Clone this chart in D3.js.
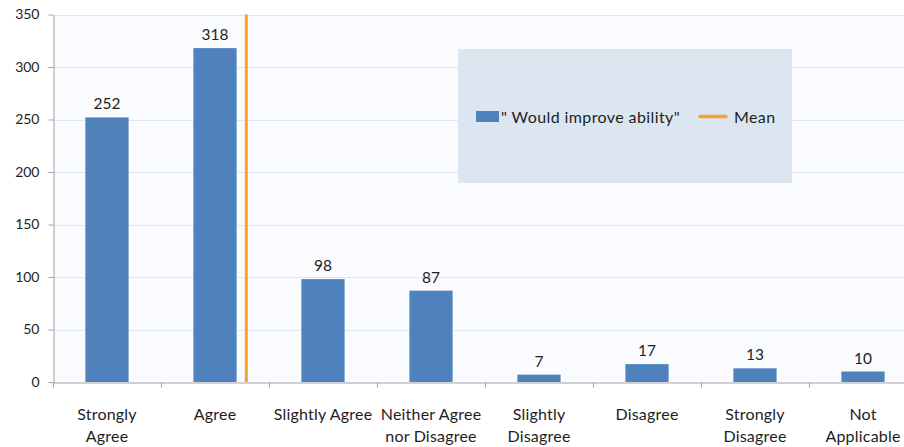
<!DOCTYPE html>
<html>
<head>
<meta charset="utf-8">
<script src="https://cdn.jsdelivr.net/npm/d3@7"></script>
<style>
  html, body { margin: 0; padding: 0; background: #ffffff; }
  svg { display: block; font-family: Lato, "Open Sans", sans-serif; }
</style>
</head>
<body>
<div id="chart"></div>
<script>
// Survey responses: "Would improve ability"
const categories = ["Strongly Agree", "Agree", "Slightly Agree", "Neither Agree nor Disagree",
                    "Slightly Disagree", "Disagree", "Strongly Disagree", "Not Applicable"];
const categoryLines = [["Strongly", "Agree"], ["Agree"], ["Slightly Agree"], ["Neither Agree", "nor Disagree"],
                       ["Slightly", "Disagree"], ["Disagree"], ["Strongly", "Disagree"], ["Not", "Applicable"]];
const counts = [252, 318, 98, 87, 7, 17, 13, 10];
const meanScore = 2.29;            // mean response position on the 1..8 category scale
const yTicks = [0, 50, 100, 150, 200, 250, 300, 350];
const seriesName = "\" Would improve ability\"";
const meanName = "Mean";

(function () {
  const W = 904, H = 447;
  const plotLeft = 53, plotRight = 917, plotTop = 14.5, plotBottom = 382;
  const barColor = "#4f81bd", meanColor = "#f8a22a", axisColor = "#a3a3a3", gridColor = "#dfe7f1";
  const textColor = "#1e1e1e";

  const svg = d3.select("#chart").append("svg").attr("width", W).attr("height", H);

  const x = d3.scaleBand().domain(categories).range([plotLeft, plotRight]).padding(0);
  const xIdx = d3.scaleLinear().domain([0.5, categories.length + 0.5]).range([plotLeft, plotRight]);
  const y = d3.scaleLinear().domain([0, 350]).range([plotBottom, plotTop]);

  // plot area background
  svg.append("rect").attr("x", plotLeft).attr("y", plotTop)
    .attr("width", plotRight - plotLeft).attr("height", plotBottom - plotTop)
    .attr("fill", "#f9fbfe");

  // gridlines
  svg.append("g").selectAll("line").data(yTicks.filter(d => d > 0)).join("line")
    .attr("x1", plotLeft).attr("x2", plotRight)
    .attr("y1", d => Math.round(y(d)) + 0.5).attr("y2", d => Math.round(y(d)) + 0.5)
    .attr("stroke", gridColor).attr("stroke-width", 1);

  // bars
  const bw = x.bandwidth() * 0.4;
  svg.append("g").selectAll("rect").data(counts).join("rect")
    .attr("x", (d, i) => x(categories[i]) + x.bandwidth() / 2 - bw / 2)
    .attr("width", bw)
    .attr("y", d => y(d))
    .attr("height", d => y(0) - y(d))
    .attr("fill", barColor);

  // value labels
  svg.append("g").selectAll("text").data(counts).join("text")
    .attr("x", (d, i) => x(categories[i]) + x.bandwidth() / 2)
    .attr("y", d => y(d) - 8)
    .attr("text-anchor", "middle")
    .attr("font-size", 15.5).attr("fill", textColor)
    .text(d => d);

  // y axis
  const yAxis = svg.append("g").attr("transform", `translate(${plotLeft + 0.5},0)`)
    .call(d3.axisLeft(y).tickValues(yTicks).tickSize(5).tickSizeOuter(0).tickPadding(9));
  yAxis.select(".domain").attr("stroke", axisColor);
  yAxis.selectAll(".tick line").attr("stroke", axisColor);
  yAxis.selectAll(".tick text").attr("font-size", 14).attr("fill", textColor).attr("font-family", "Lato, sans-serif");

  // x axis with ticks at category boundaries
  const xTickVals = d3.range(0.5, categories.length + 1, 1);
  const xAxis = svg.append("g").attr("transform", `translate(0,${plotBottom + 0.5})`)
    .call(d3.axisBottom(xIdx).tickValues(xTickVals).tickSize(5).tickSizeOuter(0).tickFormat(""));
  xAxis.select(".domain").attr("stroke", axisColor);
  xAxis.selectAll(".tick line").attr("stroke", axisColor);

  // category labels
  const lbl = svg.append("g").selectAll("text").data(categoryLines).join("text")
    .attr("text-anchor", "middle").attr("font-size", 16).attr("fill", textColor)
    .attr("letter-spacing", 0.2)
    .attr("transform", (d, i) => `translate(${x(categories[i]) + x.bandwidth() / 2},420)`);
  lbl.selectAll("tspan").data(d => d).join("tspan")
    .attr("x", 0).attr("y", (d, j) => j * 21.7).text(d => d);

  // mean line
  svg.append("line")
    .attr("x1", xIdx(meanScore)).attr("x2", xIdx(meanScore))
    .attr("y1", plotTop).attr("y2", plotBottom)
    .attr("stroke", meanColor).attr("stroke-width", 3);

  // legend
  const lg = svg.append("g");
  lg.append("rect").attr("x", 458).attr("y", 49).attr("width", 334).attr("height", 134).attr("fill", "#dce6f1");
  lg.append("rect").attr("x", 476).attr("y", 111).attr("width", 23).attr("height", 11).attr("fill", barColor);
  lg.append("text").attr("x", 501).attr("y", 123).attr("font-size", 16).attr("letter-spacing", 0.4)
    .attr("fill", textColor).text(seriesName);
  lg.append("line").attr("x1", 700).attr("x2", 726).attr("y1", 116.5).attr("y2", 116.5)
    .attr("stroke", meanColor).attr("stroke-width", 3.5).attr("stroke-linecap", "round");
  lg.append("text").attr("x", 734).attr("y", 123).attr("font-size", 16).attr("letter-spacing", 0.4)
    .attr("fill", textColor).text(meanName);
})();
</script>
</body>
</html>
